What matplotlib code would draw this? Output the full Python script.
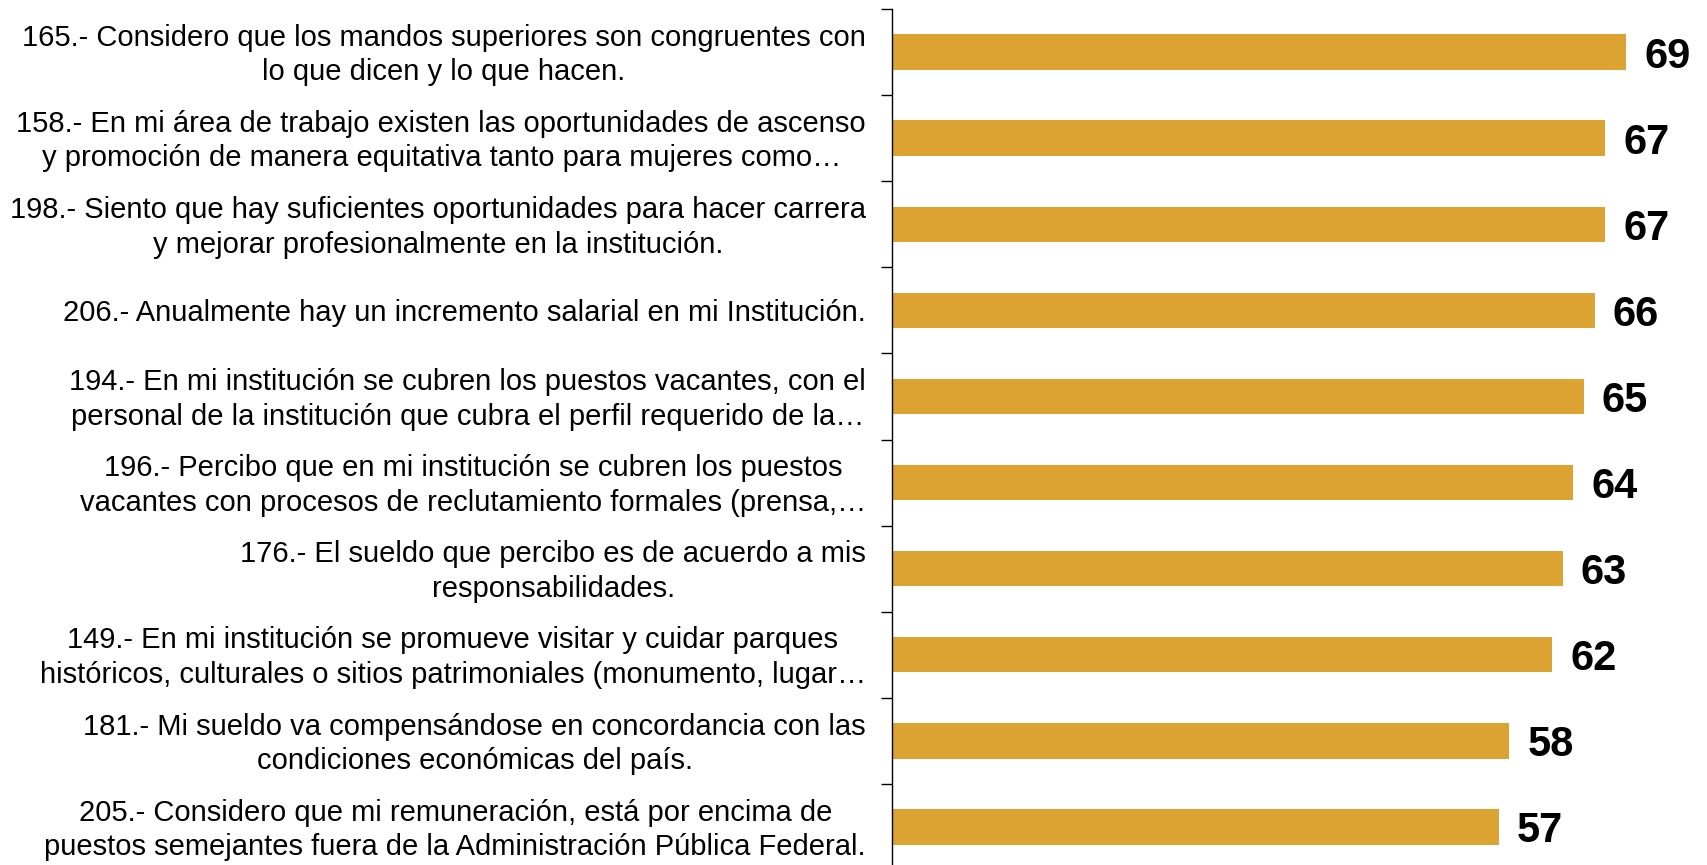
import matplotlib
matplotlib.use("Agg")
import matplotlib.pyplot as plt
import matplotlib.transforms as mtransforms

plt.rcParams['font.family'] = ['Liberation Sans', 'DejaVu Sans']

# Survey statements (top to bottom) and their scores
statements = [
    "165.- Considero que los mandos superiores son congruentes con\nlo que dicen y lo que hacen.",
    "158.- En mi área de trabajo existen las oportunidades de ascenso\ny promoción de manera equitativa tanto para mujeres como…",
    "198.- Siento que hay suficientes oportunidades para hacer carrera\ny mejorar profesionalmente en la institución.",
    "206.- Anualmente hay un incremento salarial en mi Institución.",
    "194.- En mi institución se cubren los puestos vacantes, con el\npersonal de la institución que cubra el perfil requerido de la…",
    "196.- Percibo que en mi institución se cubren los puestos\nvacantes con procesos de reclutamiento formales (prensa,…",
    "176.- El sueldo que percibo es de acuerdo a mis\nresponsabilidades.",
    "149.- En mi institución se promueve visitar y cuidar parques\nhistóricos, culturales o sitios patrimoniales (monumento, lugar…",
    "181.- Mi sueldo va compensándose en concordancia con las\ncondiciones económicas del país.",
    "205.- Considero que mi remuneración, está por encima de\npuestos semejantes fuera de la Administración Pública Federal.",
]
scores = [69, 67, 67, 66, 65, 64, 63, 62, 58, 57]

W, H = 1707, 865
fig = plt.figure(figsize=(W / 100, H / 100), dpi=100)
left_px, right_px, top_px, bottom_px = 892, 1701, 9, 870
ax = fig.add_axes([left_px / W, 1 - bottom_px / H,
                   (right_px - left_px) / W, (bottom_px - top_px) / H])

pos = list(range(len(scores)))
ax.barh(pos, scores, height=0.41, color='#DCA332', zorder=2)

ax.set_xlim(0, 76)
ax.set_ylim(len(scores) - 0.5, -0.5)

for s in ('top', 'right', 'bottom'):
    ax.spines[s].set_visible(False)
ax.spines['left'].set_color('#000000')
ax.spines['left'].set_linewidth(1.0)
ax.set_xticks([])

# category labels: right-aligned blocks, each line centred, sitting on its bar
ax.set_yticks(pos)
ax.set_yticklabels([])
ax.tick_params(axis='y', which='major', length=0)
label_tr = ax.get_yaxis_transform() + mtransforms.ScaledTranslation(
    -26 / 100, -3 / 100, fig.dpi_scale_trans)
for p, txt in zip(pos, statements):
    ax.text(0, p, txt, transform=label_tr, ha='right', va='center',
            multialignment='center', fontsize=21, linespacing=1.3,
            color='#000000')

ax.set_yticks([p - 0.5 for p in range(len(scores) + 1)], minor=True)
ax.tick_params(axis='y', which='minor', length=8, width=1.0, color='#000000', direction='out')

for p, v in zip(pos, scores):
    ax.annotate(f"{v}", xy=(v, p), xytext=(13, 0), textcoords='offset points',
                ha='left', va='center_baseline', fontsize=30, fontweight='bold',
                color='#000000')

fig.savefig("out.png", dpi=100, facecolor='white')
